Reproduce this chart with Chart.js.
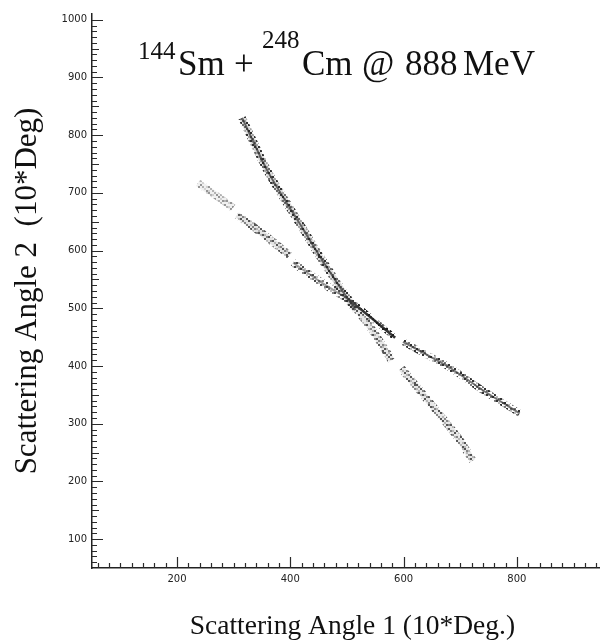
<!DOCTYPE html>
<html>
<head>
<meta charset="utf-8">
<title>Sm + Cm angular correlation</title>
<script src="https://cdn.jsdelivr.net/npm/chart.js@4.4.0/dist/chart.umd.min.js"></script>
<style>
  html, body { margin: 0; padding: 0; background: #fff; }
  #wrap { width: 601px; height: 642px; }
</style>
</head>
<body>
<div id="wrap"><canvas id="angles"></canvas></div>
<script>
// axis tick labels
var xTicks = [200, 400, 600, 800];
var yTicks = [100, 200, 300, 400, 500, 600, 700, 800, 900, 1000];

// kinematic bands, [angle 1, angle 2] in 10*deg along the centre of each band
// band A: steep branch, band B: flat branch (detector gaps split them)
var bandAUpper  = [[315, 830], [361, 736], [426, 632], [447, 598], [480, 548], [515, 497]];
var bandALower1 = [[505, 514], [545, 462], [579, 410]];
var bandALower2 = [[596, 396], [650, 332], [699, 272], [722, 236]];
var bandBFar    = [[237, 717], [270, 695], [299, 674]];
var bandBMid    = [[306, 662], [350, 630], [399, 592]];
var bandBNear   = [[405, 579], [450, 548], [505, 514]];
var bandBLower1 = [[505, 514], [545, 482], [585, 449]];
var bandBLower2 = [[599, 442], [640, 420], [682, 397], [740, 358], [805, 318]];

// count-density texture (0 empty .. 3 full), each cell is a 2x2 blob
var GRAIN = [
  "3010200130020103",
  "0203010002103020",
  "1030002301000302",
  "0102310000230010",
  "2300002012001203",
  "0013100300130020",
  "3000023010002301",
  "0210300002310002",
  "1003010230000130",
  "0320002001023003",
  "2001203000300210",
  "0030010320012000",
  "1200300002100302",
  "0003020130030021",
  "3100001002003100",
  "0023100310200013"
];

function grain(rgb, strength) {
  var n = GRAIN.length, cell = 2;
  var c = document.createElement('canvas');
  c.width = n * cell; c.height = n * cell;
  var g = c.getContext('2d');
  for (var r = 0; r < n; r++) {
    for (var k = 0; k < n; k++) {
      var lv = +GRAIN[r][k];
      if (!lv) continue;
      g.fillStyle = 'rgba(' + rgb + ',' + (lv / 3 * strength).toFixed(2) + ')';
      g.fillRect(k * cell, r * cell, cell, cell);
    }
  }
  return g.createPattern(c, 'repeat');
}

function band(points, stroke, width) {
  return {
    data: points.map(function (p) { return { x: p[0], y: p[1] }; }),
    showLine: true,
    borderColor: stroke,
    borderWidth: width,
    pointRadius: 0,
    tension: 0.25,
    fill: false
  };
}

var datasets = [
  band(bandBFar, grain('110,110,110', 0.7), 8),
  band(bandBFar, 'rgba(170,170,170,0.18)', 7),
  band(bandBMid, grain('60,60,60', 0.85), 8),
  band(bandBMid, 'rgba(120,120,120,0.2)', 6),
  band(bandBNear, grain('50,50,50', 0.9), 8),
  band(bandBNear, 'rgba(40,40,40,0.45)', 2),
  band(bandALower1, grain('60,60,60', 0.85), 8),
  band(bandALower1, 'rgba(120,120,120,0.18)', 6),
  band(bandALower2, grain('60,60,60', 0.85), 8),
  band(bandALower2, 'rgba(120,120,120,0.18)', 6),
  band(bandAUpper, grain('40,40,40', 0.95), 8),
  band(bandAUpper, 'rgba(90,90,90,0.22)', 6),
  band(bandAUpper, 'rgba(15,15,15,0.65)', 2),
  band(bandBLower1, grain('30,30,30', 1), 6),
  band(bandBLower1, 'rgba(20,20,20,0.85)', 2.5),
  band(bandBLower2, grain('40,40,40', 0.95), 7),
  band(bandBLower2, 'rgba(25,25,25,0.6)', 2)
];

// soften the plotted counts a little
var soften = {
  id: 'soften',
  beforeDatasetsDraw: function (chart) { chart.ctx.save(); chart.ctx.filter = 'blur(0.5px)'; },
  afterDatasetsDraw: function (chart) { chart.ctx.restore(); }
};

// inward tick marks and the reaction label
var frame = {
  id: 'frame',
  afterDraw: function (chart) {
    var ctx = chart.ctx, xs = chart.scales.x, ys = chart.scales.y;
    var a = chart.chartArea;
    ctx.save();
    ctx.strokeStyle = '#2a2a2a';
    ctx.lineWidth = 1.2;
    ctx.beginPath();
    for (var v = 60; v < xs.max; v += 20) {
      var px = Math.round(xs.getPixelForValue(v)) + 0.5;
      var len = v % 200 === 0 ? 11 : 5;
      ctx.moveTo(px, a.bottom);
      ctx.lineTo(px, a.bottom - len);
    }
    for (var w = 60; w <= 1000; w += 10) {
      var py = Math.round(ys.getPixelForValue(w)) + 0.5;
      var l = w % 100 === 0 ? 11 : (w % 50 === 0 ? 7 : 5);
      ctx.moveTo(a.left, py);
      ctx.lineTo(a.left + l, py);
    }
    ctx.stroke();

    ctx.fillStyle = '#111';
    ctx.textBaseline = 'alphabetic';
    ctx.textAlign = 'left';
    var sup = '25px "Liberation Serif"', big = '35px "Liberation Serif"';
    var parts = [
      ['144', sup, 138, 59],
      ['Sm', big, 178, 75],
      ['+', big, 234, 75],
      ['248', sup, 262, 48],
      ['Cm', big, 302, 75],
      ['@', big, 362, 75],
      ['888', big, 405, 75],
      ['MeV', big, 463, 75]
    ];
    parts.forEach(function (p) {
      ctx.font = p[1];
      ctx.fillText(p[0], p[2], p[3]);
    });
    ctx.restore();
  }
};

new Chart(document.getElementById('angles'), {
  type: 'scatter',
  data: { datasets: datasets },
  options: {
    responsive: true,
    maintainAspectRatio: false,
    animation: false,
    events: [],
    layout: { padding: { top: 14, right: 2, left: 0, bottom: 0 } },
    plugins: { legend: { display: false }, tooltip: { enabled: false } },
    scales: {
      x: {
        type: 'linear',
        min: 50,
        max: 945,
        afterBuildTicks: function (s) { s.ticks = xTicks.map(function (v) { return { value: v }; }); },
        afterFit: function (s) { s.height = 74; },
        grid: { display: false, drawTicks: false },
        border: { display: true, color: '#222', width: 1.5 },
        ticks: {
          padding: 5,
          color: '#222',
          font: { family: 'DejaVu Sans', size: 10 },
          maxRotation: 0,
          autoSkip: false,
          callback: function (v) { return String(v); }
        },
        title: {
          display: true,
          text: '  Scattering Angle 1 (10*Deg.)',
          color: '#111',
          font: { family: 'Liberation Serif', size: 27.5 },
          padding: { top: 0, bottom: -1 }
        }
      },
      y: {
        type: 'linear',
        min: 50,
        max: 1010,
        afterBuildTicks: function (s) { s.ticks = yTicks.map(function (v) { return { value: v }; }); },
        afterFit: function (s) { s.width = 92; },
        grid: { display: false, drawTicks: false },
        border: { display: true, color: '#222', width: 1.5 },
        ticks: {
          padding: 5,
          color: '#222',
          font: { family: 'DejaVu Sans', size: 10 },
          autoSkip: false,
          callback: function (v) { return String(v); }
        },
        title: {
          display: true,
          text: 'Scattering Angle 2  (10*Deg)',
          color: '#111',
          font: { family: 'Liberation Serif', size: 31 },
          padding: { top: 9, bottom: 0 }
        }
      }
    }
  },
  plugins: [soften, frame]
});
</script>
</body>
</html>
